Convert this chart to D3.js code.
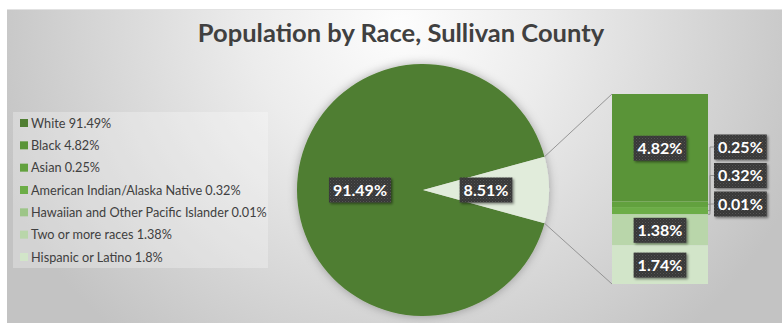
<!DOCTYPE html>
<html>
<head>
<meta charset="utf-8">
<script src="https://cdn.jsdelivr.net/npm/d3@7"></script>
<style>
  html, body { margin: 0; padding: 0; background: #ffffff; }
  svg { display: block; }
</style>
</head>
<body>
<svg id="chart" width="782" height="323"></svg>
<script>
// Population shares, Sullivan County
const categories = ["White", "Black", "Asian", "American Indian/Alaska Native",
  "Hawaiian and Other Pacific Islander", "Two or more races", "Hispanic or Latino"];
const legendLabels = ["White 91.49%", "Black 4.82%", "Asian 0.25%",
  "American Indian/Alaska Native 0.32%", "Hawaiian and Other Pacific Islander 0.01%",
  "Two or more races 1.38%", "Hispanic or Latino 1.8%"];
const pieNames = ["White", "Other"];
const pieValues = [91.49, 8.51];
const barNames = ["Black", "Asian", "American Indian/Alaska Native",
  "Hawaiian and Other Pacific Islander", "Two or more races", "Hispanic or Latino"];
const barValues = [4.82, 0.25, 0.32, 0.01, 1.38, 1.74];
const colors = ["#507e32", "#5a9438", "#62a13e", "#6cad47", "#9dc588", "#b9d6aa", "#d2e5c9"];
const otherColor = "#e1ecdb";

const W = 782, H = 323;
const svg = d3.select("#chart");
const defs = svg.append("defs");

// background: soft radial grey
const bg = defs.append("radialGradient").attr("id", "bg")
  .attr("gradientUnits", "userSpaceOnUse")
  .attr("cx", 400).attr("cy", 25).attr("r", 430)
  .attr("gradientTransform", "translate(400,25) scale(1,0.95) translate(-400,-25)");
bg.append("stop").attr("offset", 0).attr("stop-color", "#fdfdfd");
bg.append("stop").attr("offset", 0.35).attr("stop-color", "#ececec");
bg.append("stop").attr("offset", 1).attr("stop-color", "#c3c3c3");

// dotted fill for data labels
const pat = defs.append("pattern").attr("id", "dots")
  .attr("width", 3).attr("height", 3).attr("patternUnits", "userSpaceOnUse");
pat.append("rect").attr("width", 3).attr("height", 3).attr("fill", "#393939");
pat.append("rect").attr("width", 1).attr("height", 1).attr("fill", "#555555");
pat.append("rect").attr("x", 1.5).attr("y", 1.5).attr("width", 1).attr("height", 1).attr("fill", "#4a4a4a");

const sh = defs.append("filter").attr("id", "shadow")
  .attr("x", "-30%").attr("y", "-30%").attr("width", "160%").attr("height", "160%");
sh.append("feDropShadow").attr("dx", 1.5).attr("dy", 1.5).attr("stdDeviation", 1.2)
  .attr("flood-color", "#000").attr("flood-opacity", 0.45);

const pieSh = defs.append("filter").attr("id", "pieShadow")
  .attr("x", "-20%").attr("y", "-20%").attr("width", "140%").attr("height", "140%");
pieSh.append("feDropShadow").attr("dx", 0).attr("dy", 0).attr("stdDeviation", 5)
  .attr("flood-color", "#000").attr("flood-opacity", 0.3);

svg.append("rect").attr("x", 7).attr("y", 9).attr("width", W - 7).attr("height", H - 9)
  .attr("fill", "url(#bg)");
svg.append("line").attr("x1", 7).attr("x2", W).attr("y1", 9.5).attr("y2", 9.5)
  .attr("stroke", "#e2e2e2");

// title
svg.append("text").attr("x", 401).attr("y", 42).attr("text-anchor", "middle")
  .attr("font-family", "Lato, 'Open Sans', sans-serif").attr("font-weight", 700)
  .attr("font-size", 25.5).attr("fill", "#404040")
  .text("Population by Race, Sullivan County");

// legend
const legend = svg.append("g");
legend.append("rect").attr("x", 13).attr("y", 112).attr("width", 255).attr("height", 156)
  .attr("fill", "#ffffff").attr("fill-opacity", 0.28);
const ly = d3.scalePoint().domain(categories).range([123, 257]);
const li = legend.selectAll("g.item").data(categories).join("g")
  .attr("transform", d => `translate(20,${ly(d)})`);
li.append("rect").attr("x", 0).attr("y", -4).attr("width", 8).attr("height", 8)
  .attr("fill", (d, i) => colors[i]);
li.append("text").attr("x", 11).attr("y", 4.5)
  .attr("font-family", "Lato, sans-serif").attr("font-size", 12.7).attr("fill", "#404040")
  .text((d, i) => legendLabels[i]);

// pie
const cx = 423, cy = 190, R = 126;
const otherAngle = pieValues[1] / d3.sum(pieValues) * 2 * Math.PI;
const pie = d3.pie().sort(null)
  .startAngle(Math.PI / 2 + otherAngle / 2)
  .endAngle(Math.PI / 2 + otherAngle / 2 + 2 * Math.PI);
const arcs = pie(pieValues);
const arc = d3.arc().innerRadius(0).outerRadius(R);
const pg = svg.append("g").attr("transform", `translate(${cx},${cy})`);
pg.append("g").attr("filter", "url(#pieShadow)").selectAll("path").data(arcs).join("path")
  .attr("d", arc).attr("fill", (d, i) => i === 0 ? colors[0] : otherColor);

// bar of the "Other" slice
const bx = 612, bw = 96, bTop = 94, bBot = 284;
const yb = d3.scaleLinear().domain([0, d3.sum(barValues)]).range([bTop, bBot]);
const stacked = [];
let acc = 0;
barValues.forEach((v, i) => { stacked.push({ name: barNames[i], v, y0: acc, y1: acc + v, c: colors[i + 1] }); acc += v; });
svg.append("g").selectAll("rect").data(stacked).join("rect")
  .attr("x", bx).attr("width", bw)
  .attr("y", d => yb(d.y0)).attr("height", d => yb(d.y1) - yb(d.y0))
  .attr("fill", d => d.c);

// connectors from slice edges to bar corners
const a0 = arcs[1].startAngle, a1 = arcs[1].endAngle;
const pt = a => [cx + R * Math.sin(a), cy - R * Math.cos(a)];
const pTop = pt(a0), pBot = pt(a1);
svg.append("line").attr("x1", pTop[0]).attr("y1", pTop[1]).attr("x2", bx).attr("y2", bTop)
  .attr("stroke", "#8c8c8c").attr("stroke-width", 0.9);
svg.append("line").attr("x1", pBot[0]).attr("y1", pBot[1]).attr("x2", bx).attr("y2", bBot)
  .attr("stroke", "#8c8c8c").attr("stroke-width", 0.9);

// data label helper
function label(x, y, txt, anchor) {
  const g = svg.append("g");
  const t = g.append("text").attr("x", x).attr("y", y).attr("dy", "0.36em")
    .attr("text-anchor", anchor || "middle")
    .attr("font-family", "Lato, sans-serif").attr("font-weight", 700)
    .attr("font-size", 16).attr("fill", "#ffffff").text(txt);
  const bb = t.node().getBBox();
  g.insert("rect", "text").attr("x", bb.x - 4).attr("y", y - 12.5)
    .attr("width", bb.width + 8).attr("height", 25)
    .attr("fill", "url(#dots)").attr("filter", "url(#shadow)");
}

// pie labels at slice centroids
arcs.forEach((d, i) => {
  const c = arc.centroid(d);
  label(cx + c[0], cy + c[1], d3.format(".2f")(pieValues[i]) + "%");
});

// bar labels: large segments inside, thin ones to the right with leaders
const inside = stacked.filter(d => d.v > 1);
inside.forEach(d => label(bx + bw / 2, (yb(d.y0) + yb(d.y1)) / 2 + 0.5, d3.format(".2f")(d.v) + "%"));
const thin = stacked.filter(d => d.v <= 1);
const sideY = d3.scalePoint().domain(thin.map(d => d.name)).range([147, 204]);
thin.forEach(d => {
  const my = (yb(d.y0) + yb(d.y1)) / 2;
  svg.append("polyline")
    .attr("points", `${bx + bw},${my} ${bx + bw + 2},${my} ${bx + bw + 2},${sideY(d.name)} ${bx + bw + 6},${sideY(d.name)}`)
    .attr("fill", "none").attr("stroke", "#8c8c8c").attr("stroke-width", 0.9);
});
thin.forEach(d => label(714 + 4, sideY(d.name), d3.format(".2f")(d.v) + "%", "start"));
</script>
</body>
</html>
